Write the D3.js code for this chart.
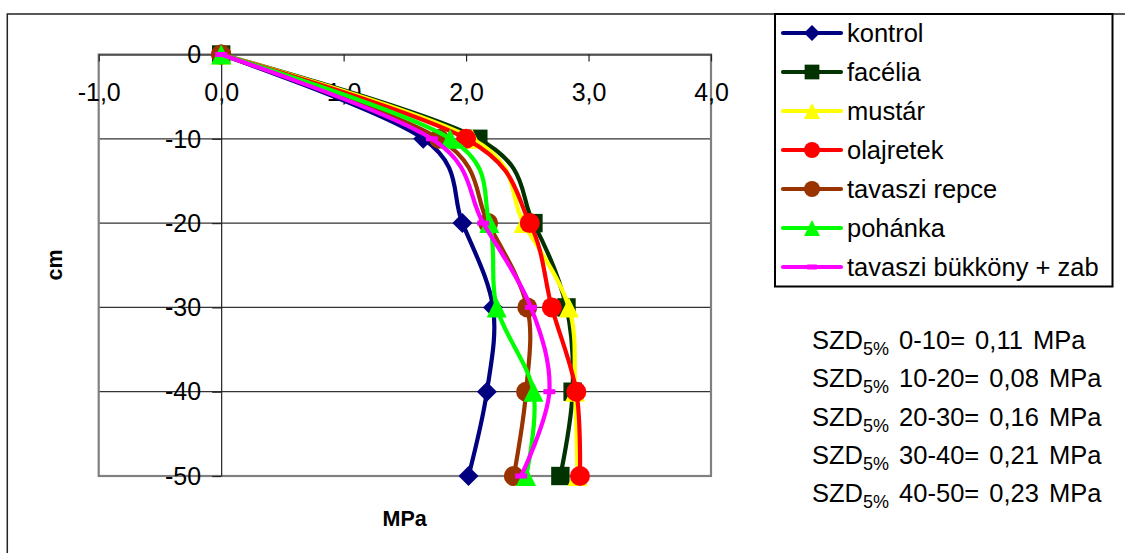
<!DOCTYPE html>
<html>
<head>
<meta charset="utf-8">
<script src="https://cdn.jsdelivr.net/npm/d3@7"></script>
<style>
  html, body { margin: 0; padding: 0; background: #fff; }
  svg { display: block; }
  text { font-family: "Liberation Sans", Arial, sans-serif; fill: #000; }
</style>
</head>
<body>
<svg id="chart" width="1125" height="553"></svg>
<script>
// ---- data ----
const depths = [0, -10, -20, -30, -40, -50];
const kontrol   = [0, 1.65, 1.97, 2.22, 2.17, 2.02];
const facelia   = [0, 2.10, 2.55, 2.82, 2.87, 2.77];
const mustar    = [0, 2.05, 2.47, 2.84, 2.89, 2.91];
const olajretek = [0, 2.00, 2.52, 2.70, 2.90, 2.93];
const repce     = [0, 1.78, 2.18, 2.50, 2.49, 2.39];
const pohanka   = [0, 1.87, 2.19, 2.25, 2.55, 2.49];
const bukkony   = [0, 1.72, 2.14, 2.53, 2.68, 2.45];

const seriesNames = ["kontrol", "facélia", "mustár", "olajretek", "tavaszi repce", "pohánka", "tavaszi bükköny + zab"];
const seriesColors = ["#000080", "#003300", "#FFFF00", "#FF0000", "#993300", "#00FF00", "#FF00FF"];
const seriesMarkers = ["diamond", "square", "triangle", "circle", "circle", "triangle", "dash"];
const seriesValues = [kontrol, facelia, mustar, olajretek, repce, pohanka, bukkony];

const xTicks = [-1, 0, 1, 2, 3, 4];
const yTicks = [0, -10, -20, -30, -40, -50];
const xTitle = "MPa";
const yTitle = "cm";
const szdRanges = ["0-10", "10-20", "20-30", "30-40", "40-50"];
const szdValues = ["0,11", "0,08", "0,16", "0,21", "0,23"];

// ---- layout ----
const svg = d3.select("#chart");
const plot = { left: 98.7, right: 711, top: 54.5, bottom: 476 };
const x = d3.scaleLinear().domain([-1, 4]).range([plot.left, plot.right]);
const y = d3.scaleLinear().domain([0, -50]).range([plot.top, plot.bottom]);

svg.append("rect").attr("width", 1125).attr("height", 553).attr("fill", "#fff");
// outer chart border
svg.append("rect").attr("x", 7.3).attr("y", 14).attr("width", 1300).attr("height", 700)
  .attr("fill", "none").attr("stroke", "#222").attr("stroke-width", 1.5);

// gridlines
svg.append("g").selectAll("line").data(yTicks.filter(d => d !== 0 && d !== -50)).join("line")
  .attr("x1", plot.left).attr("x2", plot.right)
  .attr("y1", d => y(d)).attr("y2", d => y(d))
  .attr("stroke", "#333").attr("stroke-width", 1.3);

// plot border
svg.append("rect").attr("x", plot.left).attr("y", plot.top)
  .attr("width", plot.right - plot.left).attr("height", plot.bottom - plot.top)
  .attr("fill", "none").attr("stroke", "#808080").attr("stroke-width", 2.2);

const fmtX = d => d3.format(".1f")(d).replace("−", "-").replace(".", ",");

// x axis at y = 0 (top)
const gx = svg.append("g").attr("transform", `translate(0,${y(0)})`)
  .call(d3.axisBottom(x).tickValues(xTicks).tickFormat(fmtX).tickSize(7).tickSizeOuter(0));
gx.select(".domain").attr("stroke", "#222").attr("stroke-width", 1.2);
gx.selectAll(".tick line").attr("stroke", "#222").attr("stroke-width", 1.2);
gx.selectAll(".tick text").attr("y", 46).attr("dy", null)
  .style("font-size", "25px").style("font-family", '"Liberation Sans", Arial, sans-serif');

// y axis at x = 0
const gy = svg.append("g").attr("transform", `translate(${x(0)},0)`)
  .call(d3.axisLeft(y).tickValues(yTicks).tickFormat(d => String(d)).tickSize(9).tickPadding(11).tickSizeOuter(0));
gy.select(".domain").attr("stroke", "#222").attr("stroke-width", 1.2);
gy.selectAll(".tick line").attr("stroke", "#222").attr("stroke-width", 1.2);
gy.selectAll(".tick text").attr("dy", "0.33em")
  .style("font-size", "25px").style("font-family", '"Liberation Sans", Arial, sans-serif');

// axis titles
svg.append("text").attr("x", 404.7).attr("y", 526).attr("text-anchor", "middle")
  .style("font-size", "21.5px").style("font-weight", "bold").text(xTitle);
svg.append("text").attr("transform", "translate(61.5,265) rotate(-90)").attr("text-anchor", "middle")
  .style("font-size", "21.5px").style("font-weight", "bold").text(yTitle);

// markers
function drawMarker(g, type, cx, cy, color, s) {
  if (type === "diamond") {
    g.append("path").attr("d", `M${cx},${cy - s / 2}L${cx + s / 2},${cy}L${cx},${cy + s / 2}L${cx - s / 2},${cy}Z`).attr("fill", color);
  } else if (type === "square") {
    const a = s * 0.92;
    g.append("rect").attr("x", cx - a / 2).attr("y", cy - a / 2).attr("width", a).attr("height", a).attr("fill", color);
  } else if (type === "triangle") {
    g.append("path").attr("d", `M${cx},${cy - s / 2}L${cx + s / 2},${cy + s / 2}L${cx - s / 2},${cy + s / 2}Z`).attr("fill", color);
  } else if (type === "circle") {
    g.append("circle").attr("cx", cx).attr("cy", cy).attr("r", s / 2).attr("fill", color);
  } else if (type === "dash") {
    g.append("rect").attr("x", cx - s * 0.3).attr("y", cy - 2.5).attr("width", s * 0.6).attr("height", 5).attr("fill", color);
  }
}

const line = d3.line().x(d => x(d[0])).y(d => y(d[1])).curve(d3.curveCardinal.tension(0));
const gData = svg.append("g");
seriesValues.forEach((vals, i) => {
  const pts = vals.map((v, j) => [v, depths[j]]);
  const g = gData.append("g");
  g.append("path").attr("d", line(pts)).attr("fill", "none")
    .attr("stroke", seriesColors[i]).attr("stroke-width", 4.2).attr("stroke-linejoin", "round");
  pts.forEach(p => drawMarker(g, seriesMarkers[i], x(p[0]), y(p[1]), seriesColors[i], 20));
});

// legend
const lg = svg.append("g");
lg.append("rect").attr("x", 775).attr("y", 14).attr("width", 337.5).attr("height", 272.5)
  .attr("fill", "#fff").attr("stroke", "#000").attr("stroke-width", 2);
const rowY = d3.scaleLinear().domain([0, 6]).range([33, 267]);
seriesNames.forEach((name, i) => {
  const cy = rowY(i);
  lg.append("line").attr("x1", 783).attr("x2", 841).attr("y1", cy).attr("y2", cy)
    .attr("stroke", seriesColors[i]).attr("stroke-width", 4.2).attr("stroke-linecap", "round");
  drawMarker(lg, seriesMarkers[i], 812, cy, seriesColors[i], 16);
  lg.append("text").attr("x", 847).attr("y", cy).attr("dy", "0.35em")
    .style("font-size", "25.5px").text(name);
});

// SZD annotations
const szdBase = d3.scaleLinear().domain([0, 4]).range([349.3, 501.7]);
szdRanges.forEach((r, i) => {
  const t = svg.append("text").attr("x", 812).attr("y", szdBase(i))
    .style("font-size", "25.5px").style("word-spacing", "3px");
  t.append("tspan").text("SZD");
  t.append("tspan").attr("dy", 6).style("font-size", "18px").text("5%");
  t.append("tspan").attr("dy", -6).text(` ${r}= ${szdValues[i]} MPa`);
});
</script>
</body>
</html>
